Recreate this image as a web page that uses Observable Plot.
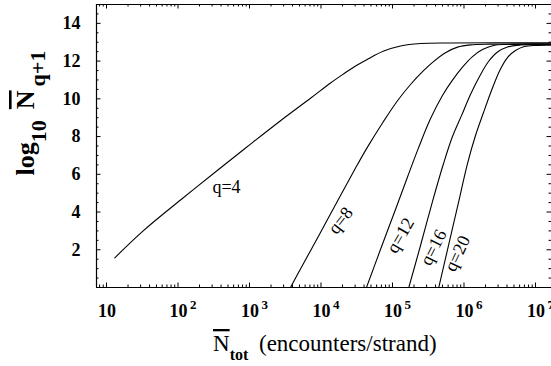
<!DOCTYPE html>
<html><head><meta charset="utf-8">
<script src="https://cdn.jsdelivr.net/npm/d3@7"></script>
<script src="https://cdn.jsdelivr.net/npm/@observablehq/plot@0.6"></script>
<style>html,body{margin:0;padding:0;background:#fff}svg{display:block}</style>
</head><body><div id="chart"></div>
<script>
// ---- data (log10 of N_tot, and log10 of N_{q+1}) ----
const seriesQ = [4, 8, 12, 16, 20];
const q4LogNtot = [1.116, 1.513, 2.035, 2.571, 3.014, 3.434, 3.853, 4.133, 4.319, 4.483, 4.646, 4.878, 5.112, 5.392, 5.811, 7.224];
const q4LogN    = [1.574, 3.000, 4.637, 6.270, 7.600, 8.840, 10.030, 10.840, 11.330, 11.740, 12.090, 12.530, 12.800, 12.930, 12.962, 12.968];
const q8LogNtot = [3.573, 3.713, 3.993, 4.273, 4.483, 4.650, 4.874, 5.070, 5.252, 5.420, 5.573, 5.741, 5.909, 6.091, 6.371, 7.224];
const q8LogN    = [0, 0.980, 2.915, 4.875, 6.330, 7.440, 8.800, 9.900, 10.760, 11.440, 11.970, 12.440, 12.740, 12.860, 12.899, 12.910];
const q12LogNtot = [4.636, 4.832, 5.042, 5.210, 5.364, 5.531, 5.699, 5.839, 5.979, 6.119, 6.259, 6.413, 6.580, 7.224];
const q12LogN    = [0, 2.014, 4.134, 5.860, 7.400, 8.940, 10.175, 10.990, 11.680, 12.240, 12.613, 12.825, 12.883, 12.899];
const q16LogNtot = [5.228, 5.392, 5.559, 5.713, 5.839, 5.965, 6.091, 6.217, 6.343, 6.469, 6.608, 6.790, 7.224];
const q16LogN    = [0, 2.226, 4.557, 6.560, 8.002, 9.110, 10.228, 11.182, 11.977, 12.480, 12.745, 12.851, 12.878];
const q20LogNtot = [5.647, 5.783, 5.923, 6.049, 6.161, 6.273, 6.385, 6.497, 6.608, 6.720, 6.846, 7.000, 7.224];
const q20LogN    = [0, 2.226, 4.504, 6.571, 8.055, 9.274, 10.440, 11.480, 12.189, 12.560, 12.772, 12.835, 12.846];

// curve labels
const labelText  = ["q=4", "q=8", "q=12", "q=16", "q=20"];
const labelLogX  = [2.678, 4.273, 5.112, 5.573, 5.909];
const labelY     = [5.30, 3.55, 2.76, 2.12, 1.80];
const labelAngle = [0, -52, -60, -63, -65];

// ticks
const xDecades = [1, 2, 3, 4, 5, 6, 7];
const yTickLabels = [2, 4, 6, 8, 10, 12, 14];

// ---- build ----
const xsL = [q4LogNtot, q8LogNtot, q12LogNtot, q16LogNtot, q20LogNtot];
const ysL = [q4LogN, q8LogN, q12LogN, q16LogN, q20LogN];
const rows = [];
seriesQ.forEach((q, i) => xsL[i].forEach((lx, j) => rows.push({q, x: 10 ** lx, y: ysL[i][j]})));
const labels = labelText.map((t, i) => ({t, x: 10 ** labelLogX[i], y: labelY[i], a: labelAngle[i]}));

const W = 551, H = 366, mL = 96, mR = 0, mT = 4, mB = 79;
const lxMin = 0.860, lxMax = 7.224, xMin = 10 ** lxMin, xMax = 10 ** lxMax;
const yMin = 0, yMax = 15;
const pxPerDec = (W - mL - mR) / (lxMax - lxMin);
const pxPerY = (H - mT - mB) / (yMax - yMin);
const majLen = 4.5, minLen = 2.5;

const xMajor = xDecades.map(d => 10 ** d);
const xMinor = [];
for (let d = 0; d <= 7; d++) for (let k = 2; k <= 9; k++) { const v = k * 10 ** d; if (v > xMin && v < xMax) xMinor.push(v); }
const yMajor = d3.range(0, 15.01, 2);
const yMinor = d3.range(0.5, 15, 0.5).filter(v => v % 2 !== 0);

const fx = (len) => 10 ** (len / pxPerDec);
const fy = (len) => len / pxPerY;
const serif = "'Liberation Serif', 'Times New Roman', serif";

const plot = Plot.plot({
  width: W, height: H,
  marginLeft: mL, marginRight: mR, marginTop: mT, marginBottom: mB,
  x: {type: "log", domain: [xMin, xMax], axis: null},
  y: {domain: [yMin, yMax], axis: null},
  style: {fontFamily: serif, background: "white", color: "black"},
  marks: [
    // frame (left, bottom, top)
    Plot.ruleY([yMin, yMax], {stroke: "black", strokeWidth: 1.2}),
    Plot.ruleX([xMin], {stroke: "black", strokeWidth: 1.2}),
    // x ticks bottom / top (inward)
    Plot.ruleX(xMajor, {x: d => d, y1: yMin, y2: yMin + fy(majLen), stroke: "black"}),
    Plot.ruleX(xMinor, {x: d => d, y1: yMin, y2: yMin + fy(minLen), stroke: "black"}),
    Plot.ruleX(xMajor, {x: d => d, y1: yMax - fy(majLen), y2: yMax, stroke: "black"}),
    Plot.ruleX(xMinor, {x: d => d, y1: yMax - fy(minLen), y2: yMax, stroke: "black"}),
    // y ticks left / right (inward)
    Plot.ruleY(yMajor, {y: d => d, x1: xMin, x2: xMin * fx(majLen), stroke: "black"}),
    Plot.ruleY(yMinor, {y: d => d, x1: xMin, x2: xMin * fx(minLen), stroke: "black"}),
    Plot.ruleY(yMajor, {y: d => d, x1: xMax / fx(majLen), x2: xMax, stroke: "black"}),
    Plot.ruleY(yMinor, {y: d => d, x1: xMax / fx(minLen), x2: xMax, stroke: "black"}),
    // curves
    Plot.line(rows, {x: "x", y: "y", z: "q", stroke: "black", strokeWidth: 1.1, curve: "catmull-rom", clip: true}),
    // y tick labels
    Plot.text(yTickLabels, {x: xMin, y: d => d, text: d => String(d), textAnchor: "end", dx: -16,
      fontSize: 18, fontWeight: "bold", fill: "black"}),
    // x tick labels (base)
    Plot.text(xDecades, {x: d => 10 ** d, y: yMin, text: () => "10", textAnchor: "middle", lineAnchor: "bottom",
      dx: 0.5, dy: 29, fontSize: 18, fontWeight: "bold", fill: "black"}),
    // x tick labels (exponent)
    Plot.text(xDecades.filter(d => d > 1), {x: d => 10 ** d, y: yMin, text: d => String(d), textAnchor: "start", lineAnchor: "bottom",
      dx: 12, dy: 21, fontSize: 13, fontWeight: "bold", fill: "black"}),
    // curve labels
    Plot.text(labels, {x: "x", y: "y", text: "t", rotate: "a", fontSize: 18, fill: "black", textAnchor: "middle", lineAnchor: "middle"})
  ]
});

const svg = d3.select(plot);
// y axis label
const yl = svg.append("text")
  .attr("transform", "translate(34,113) rotate(-90)")
  .attr("text-anchor", "middle")
  .attr("fill", "black")
  .style("font-family", serif).style("font-weight", "bold").style("font-size", "26px");
yl.append("tspan").text("log");
yl.append("tspan").attr("dy", 12).style("font-size", "22px").text("10");
yl.append("tspan").attr("dy", -12).attr("dx", 11).style("text-decoration", "overline").text("N");
yl.append("tspan").attr("dy", 11).attr("dx", 4).style("font-size", "22px").text("q+1");

// x axis label
const xl = svg.append("text")
  .attr("x", 213).attr("y", 351)
  .attr("text-anchor", "start")
  .attr("fill", "black")
  .style("font-family", serif).style("font-size", "23px");
xl.append("tspan").style("text-decoration", "overline").text("N");
xl.append("tspan").attr("dy", 9).style("font-size", "16px").style("font-weight", "bold").text("tot");
xl.append("tspan").attr("dy", -9).attr("x", 259).text("(encounters/strand)");

document.getElementById("chart").appendChild(plot);
</script>
</body></html>
